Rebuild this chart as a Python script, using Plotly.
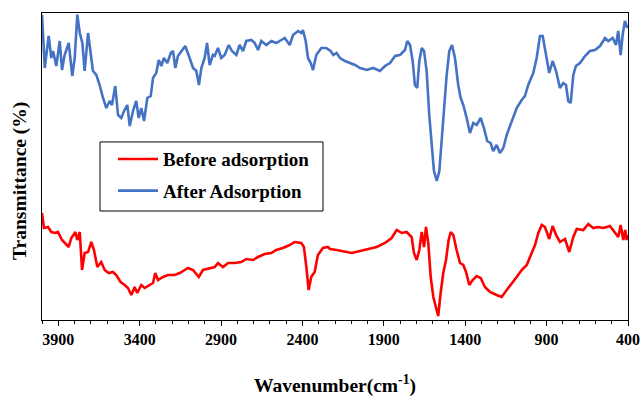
import plotly.graph_objects as go

# Wavenumber (cm-1) and transmittance (arbitrary %)
after_wn = [4000, 3983, 3959, 3943, 3932, 3912, 3891, 3877, 3861, 3836, 3814, 3799, 3783, 3768, 3752, 3738,
            3717, 3701, 3687, 3666, 3646, 3625, 3605, 3584, 3570, 3550, 3533, 3513, 3496, 3476, 3461, 3441,
            3421, 3406, 3390, 3373, 3353, 3332, 3318, 3298, 3283, 3267, 3251, 3230, 3209, 3195, 3181, 3165,
            3144, 3120, 3093, 3072, 3052, 3036, 3021, 3001, 2986, 2970, 2950, 2939, 2919, 2899, 2878, 2853,
            2833, 2806, 2786, 2765, 2745, 2714, 2693, 2673, 2653, 2622, 2591, 2561, 2530, 2509, 2478, 2458,
            2427, 2407, 2397, 2380, 2366, 2349, 2335, 2315, 2284, 2254, 2227, 2210, 2190, 2169, 2139, 2108,
            2077, 2046, 2005, 1965, 1924, 1893, 1862, 1831, 1801, 1770, 1756, 1739, 1723, 1709, 1695, 1682,
            1667, 1653, 1637, 1621, 1606, 1592, 1575, 1559, 1545, 1530, 1514, 1498, 1481, 1463, 1443, 1428,
            1412, 1391, 1371, 1350, 1330, 1305, 1285, 1265, 1244, 1228, 1207, 1187, 1166, 1145, 1115, 1084,
            1053, 1033, 1013, 982, 961, 941, 924, 904, 884, 863, 842, 818, 798, 781, 767, 752,
            736, 720, 695, 664, 634, 603, 572, 541, 521, 494, 474, 460, 445, 433, 419, 404]
after_t = [91.6, 75.6, 85.2, 78.6, 80.7, 76.2, 83.7, 75.0, 79.5, 83.1, 73.2, 78.6, 91.6, 86.1, 83.1, 74.7,
           86.1, 80.7, 74.7, 73.5, 70.5, 66.6, 63.6, 65.7, 64.5, 70.2, 61.5, 60.6, 62.7, 64.5, 58.2, 62.7,
           65.7, 60.6, 63.6, 59.7, 66.6, 67.2, 72.6, 74.1, 78.0, 76.2, 78.6, 77.1, 80.1, 80.7, 75.6, 79.2,
           80.7, 82.2, 78.6, 75.6, 74.7, 70.5, 75.6, 78.6, 83.1, 76.5, 79.5, 79.2, 81.6, 78.6, 79.5, 82.5,
           80.7, 79.5, 82.5, 80.7, 83.7, 84.0, 83.1, 81.0, 83.7, 82.5, 83.7, 83.1, 84.0, 84.6, 82.5, 85.5,
           86.7, 86.1, 87.0, 83.7, 78.6, 77.1, 75.0, 79.5, 81.6, 81.6, 80.7, 79.5, 80.1, 78.6, 77.7, 77.1,
           76.5, 75.6, 75.0, 75.6, 74.7, 76.2, 77.1, 79.2, 79.5, 81.0, 83.7, 82.5, 77.7, 70.5, 69.6, 77.7,
           81.6, 80.7, 74.7, 61.5, 51.6, 44.7, 41.7, 44.7, 53.7, 64.5, 73.5, 80.7, 82.5, 78.6, 70.5, 66.6,
           64.5, 60.6, 56.1, 59.1, 58.5, 60.6, 57.6, 53.7, 53.1, 50.7, 52.5, 50.1, 51.6, 55.5, 59.7, 63.6,
           66.0, 67.2, 70.5, 74.1, 78.6, 85.2, 85.2, 79.5, 74.1, 77.7, 74.7, 69.6, 71.1, 70.5, 65.7, 65.1,
           73.5, 76.2, 77.1, 79.2, 80.7, 81.0, 82.2, 84.6, 83.7, 84.6, 82.5, 86.7, 79.5, 85.5, 89.7, 87.6]

before_wn = [4000, 3988, 3963, 3943, 3918, 3902, 3877, 3857, 3836, 3820, 3795, 3783, 3768, 3754, 3738, 3717,
             3697, 3681, 3660, 3636, 3615, 3590, 3564, 3544, 3517, 3492, 3472, 3451, 3431, 3415, 3390, 3369,
             3338, 3318, 3304, 3287, 3257, 3226, 3185, 3154, 3123, 3103, 3072, 3037, 3011, 2970, 2939, 2919,
             2888, 2857, 2816, 2776, 2745, 2704, 2673, 2632, 2591, 2561, 2520, 2478, 2448, 2407, 2391, 2376,
             2362, 2346, 2325, 2305, 2274, 2243, 2231, 2190, 2149, 2097, 2046, 1996, 1944, 1893, 1852, 1821,
             1790, 1760, 1729, 1715, 1698, 1682, 1667, 1653, 1641, 1627, 1612, 1596, 1580, 1566, 1551, 1535,
             1518, 1502, 1489, 1473, 1453, 1432, 1412, 1395, 1375, 1354, 1330, 1305, 1279, 1248, 1207, 1176,
             1145, 1115, 1084, 1053, 1022, 1002, 971, 951, 930, 910, 884, 863, 842, 818, 787, 761,
             736, 715, 675, 644, 613, 583, 552, 511, 480, 460, 445, 429, 417, 408, 400]
before_t = [32.1, 27.6, 27.9, 26.4, 26.1, 26.4, 24.0, 23.1, 21.9, 24.6, 26.4, 24.0, 26.4, 15.0, 20.1, 20.4,
            23.4, 21.0, 15.9, 17.4, 15.0, 14.1, 14.4, 13.5, 11.4, 10.5, 9.6, 7.5, 9.9, 8.1, 10.5, 9.6,
            10.5, 11.1, 14.1, 12.0, 12.9, 13.5, 13.5, 14.1, 15.0, 15.6, 15.0, 12.9, 15.0, 15.6, 15.9, 17.1,
            15.9, 17.1, 17.1, 17.4, 18.3, 18.0, 18.9, 19.8, 20.1, 21.0, 21.6, 22.5, 23.4, 23.1, 21.9, 15.9,
            9.0, 12.9, 14.4, 19.5, 21.6, 21.9, 21.3, 21.0, 20.7, 20.1, 20.7, 21.3, 21.9, 23.1, 24.6, 27.0,
            26.1, 26.4, 24.9, 20.1, 18.0, 21.0, 26.4, 21.9, 27.9, 23.1, 12.9, 6.9, 3.9, 1.2, 8.1, 14.1,
            18.0, 24.0, 26.4, 25.5, 21.0, 17.1, 16.5, 14.4, 10.5, 12.0, 13.2, 12.6, 9.9, 8.4, 7.5, 6.9,
            9.0, 11.1, 12.9, 15.0, 16.5, 18.9, 22.5, 26.1, 28.5, 27.9, 24.3, 28.2, 25.5, 23.4, 24.3, 20.4,
            24.9, 27.3, 27.0, 28.8, 27.6, 27.9, 27.6, 28.2, 26.4, 24.9, 28.5, 24.0, 27.0, 24.0, 25.5]

x_ticks = [3900, 3400, 2900, 2400, 1900, 1400, 900, 400]
series_names = ["Before adsorption", "After Adsorption"]
y_title = "Transmittance (%)"

FONT = "Times New Roman, Liberation Serif, serif"

fig = go.Figure()
fig.add_trace(go.Scatter(x=before_wn, y=before_t, mode="lines", name=series_names[0],
                         legendgroup="g0", line=dict(color="#FF0000", width=2.6)))
fig.add_trace(go.Scatter(x=after_wn, y=after_t, mode="lines", name=series_names[1],
                         legendgroup="g1", line=dict(color="#4472C4", width=2.6)))

# legend frame (drawn as a box in paper coordinates)
fig.add_shape(type="rect", xref="paper", yref="paper",
              x0=0.099, x1=0.4795, y0=0.355, y1=0.58,
              line=dict(color="black", width=1), fillcolor="white", layer="above")

# y-axis title placed slightly below the axis centre, as in the reference
fig.add_annotation(text=y_title, xref="paper", yref="paper", x=-0.0375, y=0.453,
                   xanchor="center", yanchor="middle", textangle=-90, showarrow=False,
                   font=dict(family=FONT, size=19.5, color="black", weight="bold"))

fig.update_layout(
    width=643, height=399,
    margin=dict(l=42, r=15, t=13, b=79, autoexpand=False),
    paper_bgcolor="white", plot_bgcolor="white",
    font=dict(family=FONT, color="black", size=16),
    legend=dict(
        x=0.1212, y=0.586, xanchor="left", yanchor="top",
        borderwidth=0, bgcolor="rgba(0,0,0,0)",
        font=dict(family=FONT, size=19, color="black", weight="bold"),
        traceorder="grouped", tracegroupgap=4, itemwidth=40,
    ),
    xaxis=dict(
        range=[4000, 400], autorange=False, automargin=False,
        tickmode="array", tickvals=x_ticks,
        ticks="outside", ticklen=5, tickwidth=1, tickcolor="black",
        minor=dict(dtick=100, ticks="outside", ticklen=3, tickcolor="black", tickwidth=1, showgrid=False),
        showline=True, linecolor="black", linewidth=1, mirror=True,
        showgrid=False, zeroline=False,
        tickfont=dict(family=FONT, size=16, color="black", weight="bold"),
        title=dict(text="Wavenumber(cm<sup>-1</sup>)",
                   font=dict(family=FONT, size=19.5, color="black", weight="bold"),
                   standoff=31),
    ),
    yaxis=dict(
        range=[0, 92.1], autorange=False, automargin=False,
        showticklabels=False, ticks="",
        showline=True, linecolor="black", linewidth=1, mirror=True,
        showgrid=False, zeroline=False,
    ),
)

fig.write_html("out.html")
